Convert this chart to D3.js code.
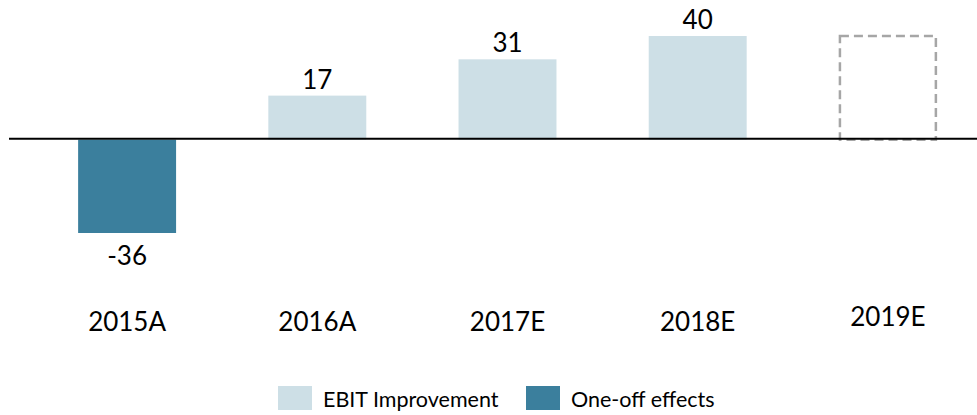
<!DOCTYPE html>
<html>
<head>
<meta charset="utf-8">
<script src="https://cdn.jsdelivr.net/npm/d3@7"></script>
<style>
  body { margin: 0; background: #fff; }
  text { font-family: Lato, "Open Sans", sans-serif; }
</style>
</head>
<body>
<div id="chart"></div>
<script>
// categories and values
const years = ["2015A", "2016A", "2017E", "2018E", "2019E"];
const values = [-36, 17, 31, 40, null];
const kinds = ["oneoff", "ebit", "ebit", "ebit", "ebit"];
// 2019E is only an outline box, same height as 2018E
const placeholderYear = "2019E";
const placeholderValue = 40;

const seriesNames = ["EBIT Improvement", "One-off effects"];
const colors = { ebit: "#cddfe6", oneoff: "#3b7f9d" };

const W = 977, H = 415;

const svg = d3.select("#chart")
    .append("svg")
    .attr("width", W)
    .attr("height", H);

    // scales
const x = d3.scaleBand()
    .domain(years)
    .range([32, 983])
    .paddingInner(0.485)
    .paddingOuter(0.2425);

const y = d3.scaleLinear()
    .domain([-36, 40])
    .range([233, 36]);

const data = years.map((d, i) => ({ year: d, value: values[i], kind: kinds[i] }));
const bars = data.filter(d => d.value !== null);

    // the bars
svg.selectAll("rect.bar")
    .data(bars)
    .enter()
    .append("rect")
    .attr("class", "bar")
    .attr("x", d => x(d.year))
    .attr("y", d => y(Math.max(0, d.value)))
    .attr("width", x.bandwidth())
    .attr("height", d => Math.abs(y(d.value) - y(0)))
    .attr("fill", d => colors[d.kind]);

    // dashed outline for the open year
svg.append("rect")
    .attr("x", x(placeholderYear) + 1)
    .attr("y", y(placeholderValue))
    .attr("width", x.bandwidth() - 2)
    .attr("height", y(0) - y(placeholderValue))
    .attr("fill", "none")
    .attr("stroke", "#a6a6a6")
    .attr("stroke-width", 2.5)
    .attr("stroke-dasharray", "9,5");

    // zero line
svg.append("line")
    .attr("x1", 9)
    .attr("x2", W)
    .attr("y1", y(0) - 1)
    .attr("y2", y(0) - 1)
    .attr("stroke", "#000")
    .attr("stroke-width", 2);

    // value labels
svg.selectAll("text.val")
    .data(bars)
    .enter()
    .append("text")
    .attr("class", "val")
    .attr("x", d => x(d.year) + x.bandwidth() / 2)
    .attr("y", d => d.value >= 0 ? y(d.value) - 7 : y(d.value) + 32)
    .attr("text-anchor", "middle")
    .style("font-size", "26px")
    .style("fill", "#000")
    .text(d => d.value);

    // category labels
svg.selectAll("text.cat")
    .data(years)
    .enter()
    .append("text")
    .attr("class", "cat")
    .attr("x", d => x(d) + x.bandwidth() / 2)
    .attr("y", d => d === placeholderYear ? 326 : 331)
    .attr("text-anchor", "middle")
    .style("font-size", "26px")
    .style("fill", "#000")
    .text(d => d);

    // legend
const legendItems = [
    { label: seriesNames[0], color: colors.ebit, x: 278 },
    { label: seriesNames[1], color: colors.oneoff, x: 526 }
];

svg.selectAll("rect.leg")
    .data(legendItems)
    .enter()
    .append("rect")
    .attr("class", "leg")
    .attr("x", d => d.x)
    .attr("y", 386)
    .attr("width", 34)
    .attr("height", 24)
    .attr("fill", d => d.color);

svg.selectAll("text.leg")
    .data(legendItems)
    .enter()
    .append("text")
    .attr("class", "leg")
    .attr("x", d => d.x + 45)
    .attr("y", 407)
    .style("font-size", "21.5px")
    .style("fill", "#000")
    .text(d => d.label);
</script>
</body>
</html>
